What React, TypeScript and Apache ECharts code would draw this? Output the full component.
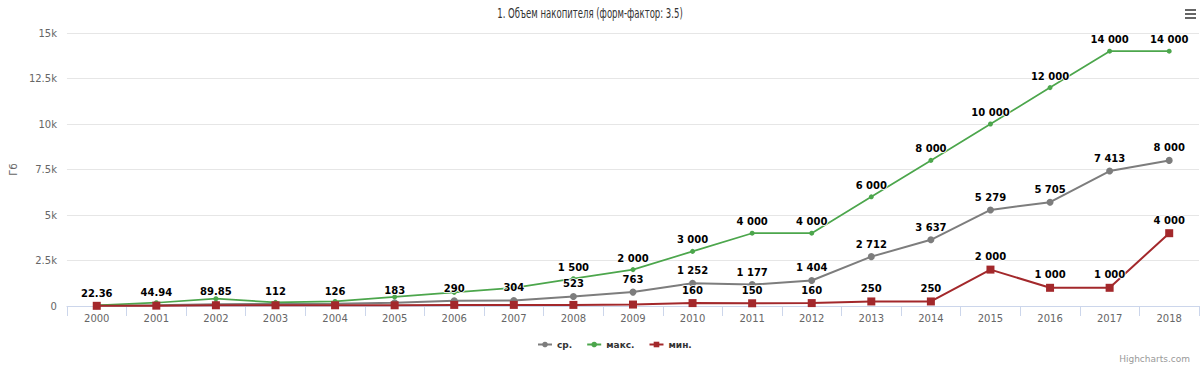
import React, { useEffect, useRef } from "react";
import * as echarts from "echarts";

const years = ["2000","2001","2002","2003","2004","2005","2006","2007","2008","2009","2010","2011","2012","2013","2014","2015","2016","2017","2018"];
const avgValues = [22.36, 44.94, 89.85, 112, 126, 183, 290, 304, 523, 763, 1252, 1177, 1404, 2712, 3637, 5279, 5705, 7413, 8000];
const maxValues = [40, 180, 400, 200, 250, 500, 750, 1000, 1500, 2000, 3000, 4000, 4000, 6000, 8000, 10000, 12000, 14000, 14000];
const minValues = [10, 20, 40, 40, 40, 40, 60, 60, 60, 80, 160, 150, 160, 250, 250, 2000, 1000, 1000, 4000];
// labels visible (others hidden by overlap in the reference)
const avgLabelFrom = 0;
const maxLabelFrom = 8;
const minLabelFrom = 10;
const yTicks = [0, 2500, 5000, 7500, 10000, 12500, 15000];
const seriesNames = ["ср.", "макс.", "мин."];
const colors = ["#7d7d7d", "#4ca64c", "#a3282b"];
const titleText = "1. Объем накопителя (форм-фактор: 3.5)";

function fmt(v: number): string {
  if (Number.isInteger(v)) return String(v).replace(/\B(?=(\d{3})+(?!\d))/g, " ");
  return String(v);
}

function yFmt(v: number): string {
  if (v === 0) return "0";
  return v / 1000 + "k";
}

export default function App() {
  const ref = useRef<HTMLDivElement>(null);
  useEffect(() => {
    if (!ref.current) return;
    const chart = echarts.init(ref.current, undefined, { renderer: "svg" });
    const labelStyle = {
      position: "top" as const,
      distance: 4,
      fontFamily: "DejaVu Sans, Verdana, sans-serif",
      fontSize: 10,
      fontWeight: "bold" as const,
      color: "#000",
      textBorderColor: "#fff",
      textBorderWidth: 1.5,
      formatter: (p: any) => fmt(p.value),
    };
    const mk = (vals: number[], from: number) =>
      vals.map((v, i) => ({ value: v, label: { show: i >= from } }));
    chart.setOption({
      animation: false,
      grid: { left: 63, right: 1, top: 33, bottom: 60, containLabel: false },
      legend: {
        bottom: 12,
        left: 532,
        itemGap: 14,
        itemWidth: 14,
        itemHeight: 7,
        textStyle: { fontFamily: "DejaVu Sans, Verdana, sans-serif", fontSize: 9, fontWeight: "bold", color: "#333" },
        data: seriesNames,
      },
      xAxis: {
        type: "category",
        data: years,
        boundaryGap: true,
        axisLine: { lineStyle: { color: "#ccd6eb" } },
        axisTick: { show: true, length: 10, lineStyle: { color: "#ccd6eb" } },
        axisLabel: { color: "#666", fontSize: 10, fontFamily: "DejaVu Sans, Verdana, sans-serif", margin: 7 },
      },
      yAxis: {
        type: "value",
        min: yTicks[0],
        max: yTicks[yTicks.length - 1],
        interval: 2500,
        name: "Гб",
        nameLocation: "middle",
        nameRotate: 90,
        nameGap: 44,
        nameTextStyle: { color: "#666", fontSize: 10, fontFamily: "DejaVu Sans, Verdana, sans-serif" },
        axisLine: { show: false },
        axisTick: { show: false },
        splitLine: { lineStyle: { color: "#e6e6e6" } },
        axisLabel: { color: "#666", fontSize: 10, fontFamily: "DejaVu Sans, Verdana, sans-serif", margin: 10, formatter: yFmt },
      },
      series: [
        {
          name: seriesNames[0],
          type: "line",
          data: mk(avgValues, avgLabelFrom),
          symbol: "circle",
          symbolSize: 7,
          lineStyle: { width: 2, color: colors[0] },
          itemStyle: { color: colors[0] },
          label: labelStyle,
        },
        {
          name: seriesNames[1],
          type: "line",
          data: mk(maxValues, maxLabelFrom),
          symbol: "circle",
          symbolSize: 5,
          lineStyle: { width: 1.7, color: colors[1] },
          itemStyle: { color: colors[1] },
          label: labelStyle,
        },
        {
          name: seriesNames[2],
          type: "line",
          data: mk(minValues, minLabelFrom),
          symbol: "rect",
          symbolSize: 8,
          lineStyle: { width: 2, color: colors[2] },
          itemStyle: { color: colors[2] },
          label: labelStyle,
        },
      ],
      graphic: [
        {
          type: "text",
          x: 590,
          y: 13,
          scaleX: 0.61,
          style: {
            text: titleText,
            fill: "#333",
            fontSize: 14,
            fontFamily: "DejaVu Sans, sans-serif",
            textAlign: "center",
            textVerticalAlign: "middle",
          },
        },
        { type: "rect", right: 4, top: 9, shape: { width: 11, height: 2 }, style: { fill: "#666" } },
        { type: "rect", right: 4, top: 13, shape: { width: 11, height: 2 }, style: { fill: "#666" } },
        { type: "rect", right: 4, top: 17, shape: { width: 11, height: 2 }, style: { fill: "#666" } },
        {
          type: "text",
          right: 10,
          bottom: 3,
          style: { text: "Highcharts.com", fill: "#999", fontSize: 9, fontFamily: "DejaVu Sans, Verdana, sans-serif" },
        },
      ],
    });
    return () => chart.dispose();
  }, []);
  return <div ref={ref} style={{ position: "fixed", left: 0, top: 0, width: 1200, height: 366, background: "#fff" }} />;
}
